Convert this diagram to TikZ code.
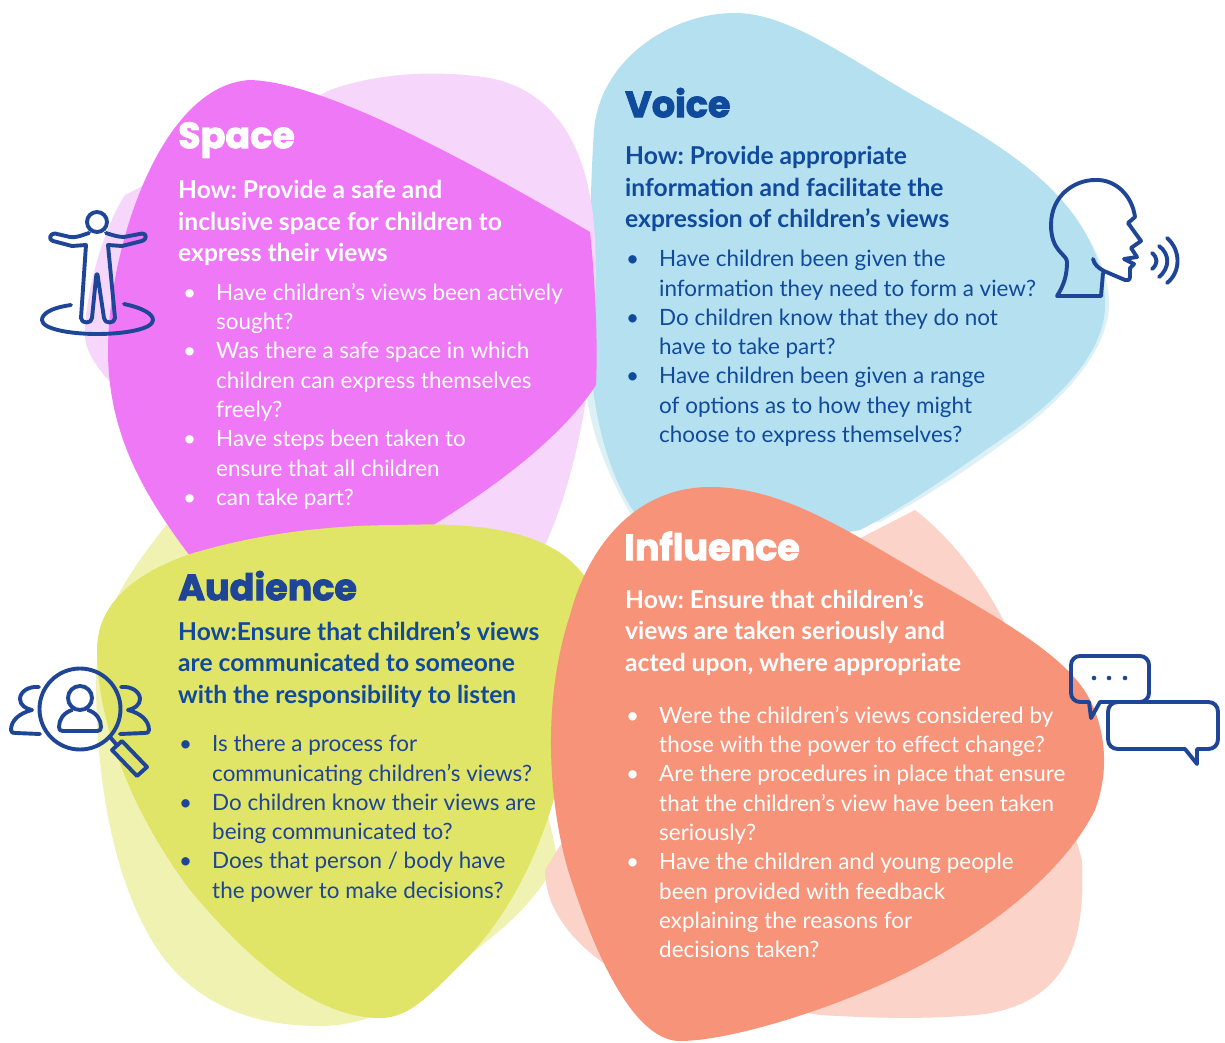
\documentclass[tikz,border=0pt]{standalone}
\usepackage{fontspec}
\setmainfont{Lato}
\newfontfamily\titlefont[FakeBold=2.5]{Poppins}
\definecolor{navy}{HTML}{1F4596}
\definecolor{voicetext}{HTML}{0F4A9C}
\definecolor{spaced}{HTML}{EE78F6}
\definecolor{spacel}{HTML}{F7D6FC}
\definecolor{voiced}{HTML}{B5E0EF}
\definecolor{voicel}{HTML}{DDF0F6}
\definecolor{audd}{HTML}{E0E467}
\definecolor{audl}{HTML}{F0F2B2}
\definecolor{infd}{HTML}{F79379}
\definecolor{infl}{HTML}{FBD3C8}
\tikzset{
 x=1pt,y=-1pt,
 ttl/.style={anchor=north west,inner sep=0pt,font=\titlefont\bfseries\fontsize{36.5}{36.5}\selectfont,execute at begin node=\rule{0pt}{30pt}},
 how/.style={anchor=north west,inner sep=0pt,align=left,font=\frenchspacing\bfseries\fontsize{24.6}{31.7}\selectfont,execute at begin node=\rule{0pt}{20pt}},
 lst/.style={anchor=north west,inner sep=0pt,align=left,font=\fontsize{22.45}{29.3}\selectfont,execute at begin node=\rule{0pt}{20pt}},
 icon/.style={draw=navy,line width=3.9pt,line cap=round,line join=round},
}
\newcommand{\bl}{\makebox[0pt][r]{\makebox[33pt][l]{\textbullet}}}
\begin{document}
\begin{tikzpicture}
\useasboundingbox (0,0) rectangle (1225,1043);
% voice
\fill[voicel] (1000,150) .. controls (1060,190) and (1110,250) .. (1109,305) .. controls (1108,350) and (1065,400) .. (1005,442) .. controls (960,475) and (920,500) .. (880,522) -- (640,530) .. controls (610,480) and (592,440) .. (586,390) -- cycle;
\fill[voiced] (735,13) .. controls (790,13) and (850,60) .. (930,105) .. controls (1000,145) and (1100,200) .. (1105,300) .. controls (1108,350) and (1060,400) .. (1000,440) .. controls (950,475) and (900,510) .. (860,530) -- (700,560) -- (640,520) .. controls (605,475) and (588,400) .. (588,310) .. controls (590,250) and (590,190) .. (594,130) .. controls (600,60) and (670,13) .. (735,13) -- cycle;
% audience, light
\fill[audl] (166,525) .. controls (140,560) and (96,610) .. (96,680) .. controls (96,800) and (120,900) .. (165,960) .. controls (210,1015) and (270,1026) .. (320,1026) .. controls (370,1026) and (420,1000) .. (470,955) .. controls (500,930) and (530,910) .. (558,860) -- (500,600) -- cycle;
% space
\fill[spacel] (330,90) .. controls (380,72) and (440,70) .. (490,78) .. controls (550,90) and (590,140) .. (595,240) .. controls (600,350) and (580,470) .. (545,545) -- (300,520) -- (110,382) .. controls (95,365) and (85,350) .. (85,335) .. controls (85,290) and (105,225) .. (125,195) -- cycle;
\fill[spaced] (250,80) .. controls (320,82) and (450,150) .. (590,232) .. controls (595,280) and (598,340) .. (596,385) .. controls (560,440) and (490,490) .. (430,527) .. controls (350,570) and (250,590) .. (190,556) .. controls (140,490) and (108,430) .. (108,350) .. controls (108,250) and (160,85) .. (250,80) -- cycle;
% audience
\fill[audd] (400,525) .. controls (480,522) and (560,530) .. (590,585) -- (570,720) .. controls (560,800) and (530,890) .. (470,955) .. controls (430,995) and (410,1018) .. (380,1018) .. controls (310,1018) and (240,950) .. (190,890) .. controls (130,810) and (97,720) .. (97,650) .. controls (97,595) and (150,568) .. (190,554) .. controls (260,533) and (330,525) .. (400,525) -- cycle;
% influence
\fill[infl] (880,528) -- (915,510) .. controls (960,545) and (1000,600) .. (1030,680) -- (1082,860) .. controls (1085,930) and (1075,1000) .. (985,1014) .. controls (930,1020) and (870,1018) .. (820,1015) -- (640,985) .. controls (590,960) and (545,920) .. (545,870) -- (700,620) -- cycle;
\fill[infd] (710,487) .. controls (790,487) and (860,540) .. (950,590) .. controls (1010,625) and (1070,660) .. (1090,700) .. controls (1105,730) and (1110,770) .. (1095,810) .. controls (1060,880) and (970,945) .. (880,985) .. controls (800,1020) and (720,1041) .. (680,1041) .. controls (630,1041) and (590,940) .. (568,870) .. controls (548,800) and (542,700) .. (570,615) .. controls (590,540) and (640,487) .. (710,487) -- cycle;
% texts
\node[ttl,text=white] (spacet) at (178,118) {Space};
\node[how,text=white] (spaceh) at (178,180) {How: Provide a safe and\\inclusive space for children to\\express their views};
\node[lst,text=white] (spacelist) at (216,283) {\bl Have children’s views been actively\\sought?\\\bl Was there a safe space in which\\children can express themselves\\freely?\\\bl Have steps been taken to\\ensure that all children\\\bl can take part?};
\node[ttl,text=voicetext] (voicet) at (625,87) {Voice};
\node[how,text=voicetext] (voiceh) at (625,146) {How: Provide appropriate\\information and facilitate the\\expression of children’s views};
\node[lst,text=voicetext] (voicelist) at (659,250) {\bl Have children been given the\\information they need to form a view?\\\bl Do children know that they do not\\have to take part?\\\bl Have children been given a range\\of options as to how they might\\choose to express themselves?};
\node[ttl,text=navy] (audt) at (178,570) {Audience};
\node[how,text=voicetext] (audh) at (178,621) {How:Ensure that children’s views\\are communicated to someone\\with the responsibility to listen};
\node[lst,text=navy] (audlist) at (212,735) {\bl Is there a process for\\communicating children’s views?\\\bl Do children know their views are\\being communicated to?\\\bl Does that person / body have\\the power to make decisions?};
\node[ttl,text=white] (inft) at (624,530) {Influence};
\node[how,text=white] (infh) at (625,589) {How: Ensure that children’s\\views are taken seriously and\\acted upon, where appropriate};
\node[lst,text=white] (inflist) at (659,706) {\bl Were the children’s views considered by\\those with the power to effect change?\\\bl Are there procedures in place that ensure\\that the children’s view have been taken\\seriously?\\\bl Have the children and young people\\been provided with feedback\\explaining the reasons for\\decisions taken?};
% person icon
\draw[icon] (97,222) circle (10);
\draw[icon] (89,233) .. controls (80,236) and (75,238) .. (70,237) -- (55,233.5) .. controls (50,233) and (48,240) .. (53,241) -- (72,246) -- (86,245) -- (81,318) .. controls (81,324) and (92,324) .. (92,318) -- (96,278) .. controls (96,273) and (98,273) .. (98,278) -- (104,318) .. controls (104,324) and (115,324) .. (115,318) -- (108,245) -- (122,246) -- (142,241) .. controls (147,240) and (147,233) .. (142,233.5) -- (124,237) .. controls (118,237) and (112,235) .. (106,233);
\draw[icon] (71,305) .. controls (50,308) and (42,314) .. (42,320) .. controls (42,329) and (70,334) .. (97,334) .. controls (125,334) and (153,329) .. (153,320) .. controls (153,314) and (143,308) .. (124,304);
% head icon
\draw[icon] (1101,296) -- (1057,296) .. controls (1064,285) and (1067,275) .. (1067,262) .. controls (1067,254) and (1051,252) .. (1051,225) .. controls (1051,195) and (1075,180) .. (1095,180) .. controls (1115,179) and (1132,195) .. (1135,217) -- (1128,223) -- (1141,241) -- (1131,248) -- (1137,257) -- (1124,259) -- (1134,264) -- (1130,268) -- (1130,277) .. controls (1130,280) and (1127,281) .. (1125,280) -- (1104,271) .. controls (1098,268) and (1094,264) .. (1093,259);
\draw[icon] (1103,273) -- (1101,296);
\draw[icon] (1152,253) .. controls (1158,258) and (1158,264) .. (1152,269);
\draw[icon] (1159,246) .. controls (1170,254) and (1170,268) .. (1159,277);
\draw[icon] (1167,238) .. controls (1181,250) and (1181,272) .. (1167,283);
% audience icon
\draw[icon] (80,709) circle (40.5);
\draw[icon] (80,698) circle (12);
\draw[icon] (72,710) .. controls (63,713) and (59,720) .. (59,727) .. controls (59,730) and (60,731) .. (63,731) -- (97,731) .. controls (100,731) and (101,730) .. (101,727) .. controls (101,720) and (97,713) .. (88,710);
\draw[icon] (39,687) .. controls (28,686) and (20,692) .. (20,699) .. controls (20,705) and (26,709) .. (32,710) .. controls (20,713) and (11,720) .. (11,730) .. controls (11,733) and (13,733) .. (16,733) -- (40,734);
\draw[icon] (121,687) .. controls (132,686) and (140,692) .. (140,699) .. controls (140,705) and (134,709) .. (128,710) .. controls (140,713) and (149,720) .. (149,730) .. controls (149,733) and (147,733) .. (144,733) -- (120,734);
\draw[icon] (110,737) -- (116,744);
\draw[icon] (112,750) -- (122,741) -- (147,767) -- (137,776) -- cycle;
% chat icon
\draw[icon] (1100,702) -- (1091,718) -- (1089,702) -- (1080,702) .. controls (1075,702) and (1071,698) .. (1071,693) -- (1071,665) .. controls (1071,660) and (1075,656) .. (1080,656) -- (1140,656) .. controls (1145,656) and (1149,660) .. (1149,665) -- (1149,693) .. controls (1149,698) and (1145,702) .. (1140,702) -- cycle;
\draw[icon] (1118,702) -- (1208,702) .. controls (1214,702) and (1218,706) .. (1218,712) -- (1218,739) .. controls (1218,745) and (1214,749) .. (1208,749) -- (1197,749) -- (1197,764) -- (1185,749) -- (1118,749) .. controls (1112,749) and (1108,745) .. (1108,739) -- (1108,712) .. controls (1108,706) and (1112,702) .. (1118,702) -- cycle;
\fill[navy] (1094,678) circle (2.3) (1109,678) circle (2.3) (1125,678) circle (2.3);
\end{tikzpicture}
\end{document}
